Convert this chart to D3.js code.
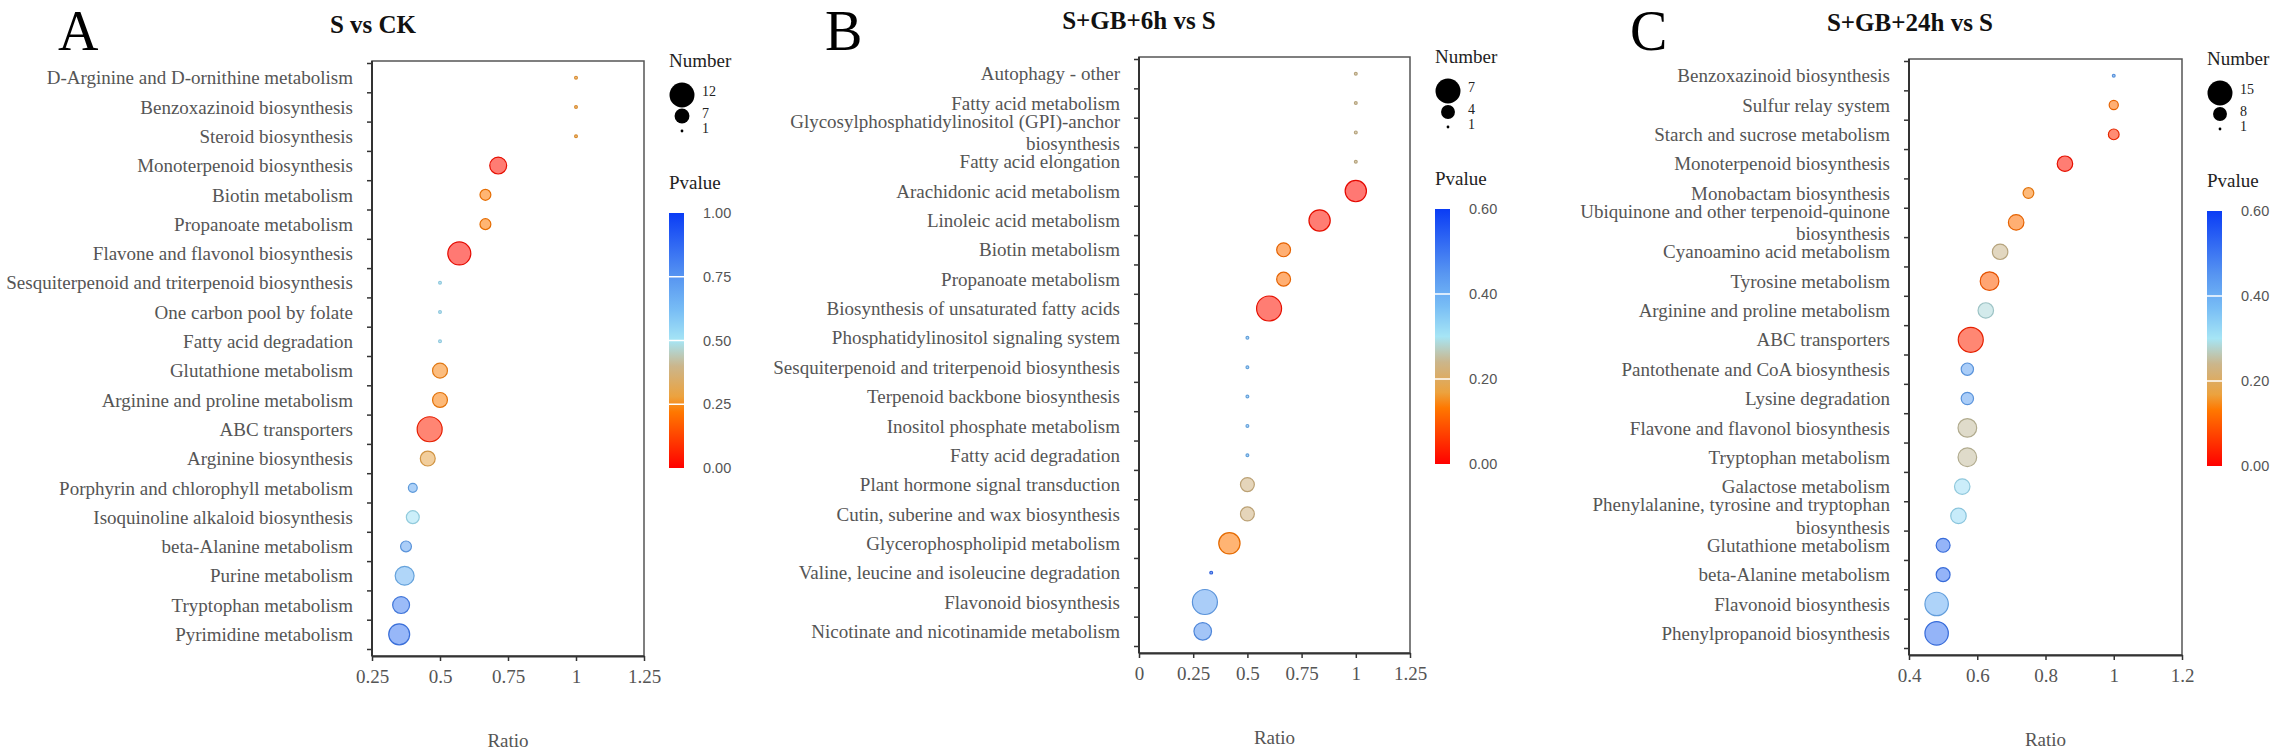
<!DOCTYPE html>
<html>
<head>
<meta charset="utf-8">
<script src="https://cdn.jsdelivr.net/npm/d3@7"></script>
<style>
body { margin: 0; background: #fff; }
text { font-family: "Liberation Serif", "Times New Roman", serif; }
</style>
</head>
<body>
<div id="view"></div>
<script>
// ---- panel A : S vs CK ----
var catsA = ["D-Arginine and D-ornithine metabolism", "Benzoxazinoid biosynthesis", "Steroid biosynthesis",
	"Monoterpenoid biosynthesis", "Biotin metabolism", "Propanoate metabolism", "Flavone and flavonol biosynthesis",
	"Sesquiterpenoid and triterpenoid biosynthesis", "One carbon pool by folate", "Fatty acid degradation",
	"Glutathione metabolism", "Arginine and proline metabolism", "ABC transporters", "Arginine biosynthesis",
	"Porphyrin and chlorophyll metabolism", "Isoquinoline alkaloid biosynthesis", "beta-Alanine metabolism",
	"Purine metabolism", "Tryptophan metabolism", "Pyrimidine metabolism"];
var ratioA = [1, 1, 1, 0.714, 0.667, 0.667, 0.571, 0.5, 0.5, 0.5, 0.5, 0.5, 0.462, 0.455, 0.4, 0.4, 0.375, 0.37, 0.357, 0.35];
var numA = [1, 1, 1, 8, 5, 5, 11, 1, 1, 1, 7, 7, 12, 7, 4, 6, 5, 9, 8, 10];
var pA = [0.27, 0.27, 0.27, 0.03, 0.22, 0.22, 0.02, 0.52, 0.52, 0.52, 0.24, 0.23, 0.06, 0.3, 0.68, 0.51, 0.7, 0.65, 0.8, 0.82];
var xTicksA = [0.25, 0.5, 0.75, 1, 1.25];
var sizeBreaksA = [12, 7, 1];
var pBreaksA = [0, 0.25, 0.5, 0.75, 1];

// ---- panel B : S+GB+6h vs S ----
var catsB = ["Autophagy - other", "Fatty acid metabolism", "Glycosylphosphatidylinositol (GPI)-anchor biosynthesis",
	"Fatty acid elongation", "Arachidonic acid metabolism", "Linoleic acid metabolism", "Biotin metabolism",
	"Propanoate metabolism", "Biosynthesis of unsaturated fatty acids", "Phosphatidylinositol signaling system",
	"Sesquiterpenoid and triterpenoid biosynthesis", "Terpenoid backbone biosynthesis", "Inositol phosphate metabolism",
	"Fatty acid degradation", "Plant hormone signal transduction", "Cutin, suberine and wax biosynthesis",
	"Glycerophospholipid metabolism", "Valine, leucine and isoleucine degradation", "Flavonoid biosynthesis",
	"Nicotinate and nicotinamide metabolism"];
var ratioB = [1, 1, 1, 1, 1, 0.833, 0.667, 0.667, 0.6, 0.5, 0.5, 0.5, 0.5, 0.5, 0.5, 0.5, 0.417, 0.333, 0.304, 0.294];
var numB = [1, 1, 1, 1, 6, 6, 4, 4, 7, 1, 1, 1, 1, 1, 4, 4, 6, 1, 7, 5];
var pB = [0.24, 0.24, 0.24, 0.24, 0.01, 0.02, 0.12, 0.12, 0.02, 0.39, 0.39, 0.39, 0.39, 0.39, 0.23, 0.23, 0.13, 0.52, 0.42, 0.45];
var xTicksB = [0, 0.25, 0.5, 0.75, 1, 1.25];
var sizeBreaksB = [7, 4, 1];
var pBreaksB = [0, 0.2, 0.4, 0.6];

// ---- panel C : S+GB+24h vs S ----
var catsC = ["Benzoxazinoid biosynthesis", "Sulfur relay system", "Starch and sucrose metabolism",
	"Monoterpenoid biosynthesis", "Monobactam biosynthesis", "Ubiquinone and other terpenoid-quinone biosynthesis",
	"Cyanoamino acid metabolism", "Tyrosine metabolism", "Arginine and proline metabolism", "ABC transporters",
	"Pantothenate and CoA biosynthesis", "Lysine degradation", "Flavone and flavonol biosynthesis",
	"Tryptophan metabolism", "Galactose metabolism", "Phenylalanine, tyrosine and tryptophan biosynthesis",
	"Glutathione metabolism", "beta-Alanine metabolism", "Flavonoid biosynthesis", "Phenylpropanoid biosynthesis"];
var ratioC = [1, 1, 1, 0.857, 0.75, 0.714, 0.667, 0.636, 0.625, 0.581, 0.571, 0.571, 0.571, 0.571, 0.556, 0.545, 0.5, 0.5, 0.481, 0.481];
var numC = [1, 5, 6, 9, 6, 9, 9, 11, 9, 15, 7, 7, 11, 11, 9, 9, 8, 8, 14, 14];
var pC = [0.42, 0.12, 0.05, 0.02, 0.14, 0.12, 0.24, 0.1, 0.285, 0.04, 0.42, 0.42, 0.25, 0.25, 0.31, 0.32, 0.5, 0.5, 0.4, 0.5];
var xTicksC = [0.4, 0.6, 0.8, 1, 1.2];
var sizeBreaksC = [15, 8, 1];
var pBreaksC = [0, 0.2, 0.4, 0.6];

// colour ramp for the Pvalue bar (fraction of the bar -> colour)
var palStops = [0, 0.22, 0.28, 0.4, 0.5, 0.62, 0.75, 1];
var palColors = ["#ff0000", "#ff7800", "#eca23e", "#cbb68c", "#a6e5f5", "#78bdf5", "#5795f1", "#0a3cf5"];

var svg = d3.select("#view")
	.append("svg")
	.attr("width", 2276)
	.attr("height", 752);

var defs = svg.append("defs");

// split long names on the last word, like the original
function lines(name){
	if (name.length < 47) return [name];
	var k = name.lastIndexOf(" ");
	return [name.slice(0, k), name.slice(k + 1)];
}

function panel(o){
	var g = svg.append("g");
	var n = o.cats.length;

	var x = d3.scaleLinear().domain([o.xTicks[0], o.xTicks[o.xTicks.length - 1]]).range([o.left, o.right]);
	var y = d3.scaleBand().domain(o.cats).range([o.top + 2, o.bottom - 7]);
	var r = d3.scaleLinear().domain([1, o.sizes[0]]).range([1.4, 12.5]);
	var pMax = o.pTicks[o.pTicks.length - 1];
	var col = d3.scaleLinear()
		.domain(palStops.map(function(s){ return s * pMax; }))
		.range(palColors)
		.clamp(true);

	// letter + title
	g.append("text")
		.attr("x", o.letterX).attr("y", 50)
		.style("font-size", "56px")
		.style("fill", "#000")
		.text(o.letter);
	g.append("text")
		.attr("x", o.titleX).attr("y", o.titleY)
		.attr("text-anchor", "middle")
		.style("font-size", "25px")
		.style("font-weight", "bold")
		.style("fill", "#111")
		.text(o.title);

	// frame
	g.append("rect")
		.attr("x", o.left).attr("y", o.top)
		.attr("width", o.right - o.left).attr("height", o.bottom - o.top)
		.style("fill", "none")
		.style("stroke", "#555")
		.style("stroke-width", 1.5);

	// y ticks sit between the categories
	var yb = d3.scaleLinear().domain([0, n]).range(y.range());
	var ya = g.append("g")
		.attr("transform", "translate(" + o.left + ",0)")
		.call(d3.axisLeft(yb).tickValues(d3.range(n + 1)).tickSize(5).tickSizeOuter(0).tickFormat(""));
	ya.select(".domain").remove();
	ya.selectAll("line").style("stroke", "#333").style("stroke-width", 1.5);
	g.append("line")
		.attr("x1", o.left).attr("x2", o.left)
		.attr("y1", o.top).attr("y2", o.bottom)
		.style("stroke", "#333").style("stroke-width", 2);

	// category labels
	o.cats.forEach(function(c){
		var ls = lines(c);
		var cy = y(c) + y.bandwidth() / 2;
		var t = g.append("text")
			.attr("text-anchor", "end")
			.style("font-size", "19px")
			.style("fill", "#555");
		ls.forEach(function(s, j){
			t.append("tspan")
				.attr("x", o.left - 19)
				.attr("y", cy + (j - (ls.length - 1) / 2) * 22.7)
				.attr("dy", "0.35em")
				.text(s);
		});
	});

	// x axis
	var xa = g.append("g")
		.attr("transform", "translate(0," + o.bottom + ")")
		.call(d3.axisBottom(x).tickValues(o.xTicks).tickSize(5).tickSizeOuter(0).tickPadding(9)
			.tickFormat(function(d){ return String(d); }));
	xa.select(".domain").style("stroke", "#333").style("stroke-width", 2);
	xa.selectAll("line").style("stroke", "#333").style("stroke-width", 1.5);
	xa.selectAll("text")
		.style("font-family", "Liberation Serif, serif")
		.style("font-size", "19px")
		.style("fill", "#555");
	g.append("text")
		.attr("x", (o.left + o.right) / 2).attr("y", o.bottom + 91)
		.attr("text-anchor", "middle")
		.style("font-size", "19px")
		.style("fill", "#555")
		.text("Ratio");

	// bubbles
	g.selectAll("circle.pt")
		.data(d3.range(n))
	  .enter().append("circle")
		.attr("class", "pt")
		.attr("cx", function(i){ return x(o.ratio[i]); })
		.attr("cy", function(i){ return y(o.cats[i]) + y.bandwidth() / 2; })
		.attr("r", function(i){ return r(o.num[i]); })
		.style("fill", function(i){ return col(o.p[i]); })
		.style("fill-opacity", 0.55)
		.style("stroke", function(i){ return d3.color(col(o.p[i])).darker(0.3); })
		.style("stroke-width", 1.2);

	// size legend
	var lx = o.right + 25;
	g.append("text")
		.attr("x", lx).attr("y", o.top + 6)
		.style("font-size", "19px").style("fill", "#222")
		.text("Number");
	var cyOff = [34, 55, 70];
	var tyOff = [30, 52, 67];
	o.sizes.forEach(function(v, j){
		g.append("circle")
			.attr("cx", o.right + 38).attr("cy", o.top + cyOff[j])
			.attr("r", r(v))
			.style("fill", "#000");
		g.append("text")
			.attr("x", o.right + 58).attr("y", o.top + tyOff[j])
			.attr("dy", "0.35em")
			.style("font-size", "14px").style("fill", "#222")
			.text(v);
	});

	// colour bar legend
	g.append("text")
		.attr("x", lx).attr("y", o.top + 128)
		.style("font-size", "19px").style("fill", "#222")
		.text("Pvalue");
	var gid = "grad" + o.letter;
	var grad = defs.append("linearGradient")
		.attr("id", gid)
		.attr("x1", 0).attr("y1", 1).attr("x2", 0).attr("y2", 0);
	palStops.forEach(function(s, j){
		grad.append("stop").attr("offset", s).attr("stop-color", palColors[j]);
	});
	var pb = d3.scaleLinear().domain([0, pMax]).range([o.top + 407, o.top + 152]);
	g.append("rect")
		.attr("x", lx).attr("y", pb(pMax))
		.attr("width", 15).attr("height", pb(0) - pb(pMax))
		.style("fill", "url(#" + gid + ")");
	o.pTicks.forEach(function(v, j){
		if (j > 0 && j < o.pTicks.length - 1) {
			g.append("line")
				.attr("x1", lx).attr("x2", lx + 15)
				.attr("y1", pb(v)).attr("y2", pb(v))
				.style("stroke", "#fff").style("stroke-width", 1.5);
		}
		g.append("text")
			.attr("x", o.right + 59).attr("y", pb(v))
			.attr("dy", "0.35em")
			.style("font-family", "Liberation Sans, Arial, sans-serif")
			.style("font-size", "14.5px").style("fill", "#555")
			.text(d3.format(".2f")(v));
	});
}

panel({letter: "A", title: "S vs CK", cats: catsA, ratio: ratioA, num: numA, p: pA,
	xTicks: xTicksA, sizes: sizeBreaksA, pTicks: pBreaksA,
	left: 372, right: 644, top: 61, bottom: 656, titleX: 373, titleY: 33, letterX: 58});
panel({letter: "B", title: "S+GB+6h vs S", cats: catsB, ratio: ratioB, num: numB, p: pB,
	xTicks: xTicksB, sizes: sizeBreaksB, pTicks: pBreaksB,
	left: 1139, right: 1410, top: 57, bottom: 653, titleX: 1139, titleY: 29, letterX: 825});
panel({letter: "C", title: "S+GB+24h vs S", cats: catsC, ratio: ratioC, num: numC, p: pC,
	xTicks: xTicksC, sizes: sizeBreaksC, pTicks: pBreaksC,
	left: 1909, right: 2182, top: 59, bottom: 655, titleX: 1910, titleY: 31, letterX: 1630});
</script>
</body>
</html>
